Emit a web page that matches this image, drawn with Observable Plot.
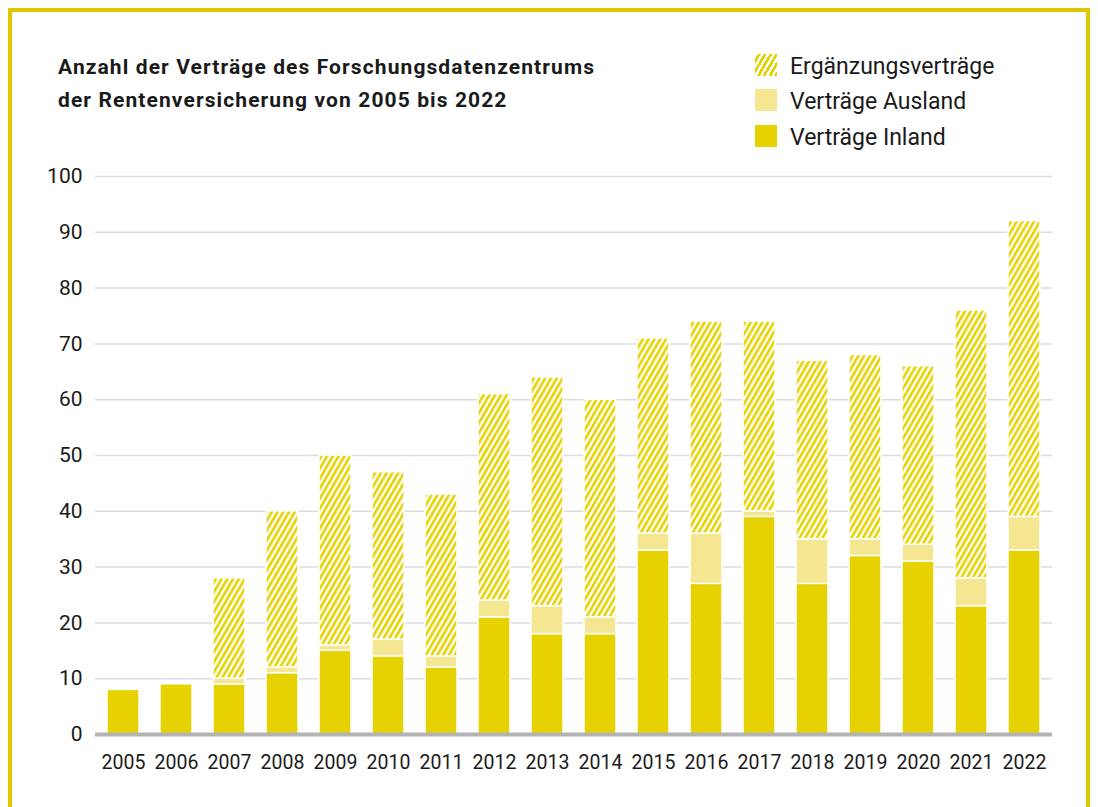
<!DOCTYPE html>
<html><head><meta charset="utf-8">
<script src="https://cdn.jsdelivr.net/npm/d3@7"></script>
<script src="https://cdn.jsdelivr.net/npm/@observablehq/plot@0.6"></script>
<style>
html,body{margin:0;padding:0;width:1098px;height:807px;overflow:hidden;background:#fff;font-family:Roboto,"Noto Sans",sans-serif;color:#1a1a1a;}
#frame{position:absolute;left:8px;top:8px;width:1074px;height:900px;border:4px solid #dec800;box-sizing:content-box;}
#title{position:absolute;left:58px;top:51px;font-size:21px;font-weight:700;line-height:33px;letter-spacing:1.1px;white-space:nowrap;}
#legend{position:absolute;left:755px;top:54px;}
.li{position:relative;height:35.3px;}
.sw{position:absolute;left:0;top:0;width:22px;height:22px;}
.lt{position:absolute;left:35px;top:-1px;font-size:23px;line-height:28px;white-space:nowrap;}
#chart{position:absolute;left:0;top:150px;}
</style></head>
<body>
<div id="frame"></div>
<div id="title">Anzahl der Verträge des Forschungsdatenzentrums<br>der Rentenversicherung von 2005 bis 2022</div>
<div id="legend"></div>
<div id="chart"></div>
<script>
const years = [2005,2006,2007,2008,2009,2010,2011,2012,2013,2014,2015,2016,2017,2018,2019,2020,2021,2022];
const inland = [8,9,9,11,15,14,12,21,18,18,33,27,39,27,32,31,23,33];
const ausland = [0,0,1,1,1,3,2,3,5,3,3,9,1,8,3,3,5,6];
const ergaenzung = [0,0,18,28,34,30,29,37,41,39,35,38,34,32,33,32,48,53];
const seriesNames = ["Verträge Inland","Verträge Ausland","Ergänzungsverträge"];
const seriesColors = ["#e6d200","#f5e691","url(#hatch)"];
const legendOrder = ["Ergänzungsverträge","Verträge Ausland","Verträge Inland"];
const yTicks = [0,10,20,30,40,50,60,70,80,90,100];

const data = [];
years.forEach((yr, i) => {
  [inland, ausland, ergaenzung].forEach((arr, k) => {
    if (arr[i] > 0) data.push({year: String(yr), series: seriesNames[k], value: arr[i]});
  });
});

const chart = Plot.plot({
  width: 1098, height: 650,
  marginLeft: 95, marginRight: 46, marginTop: 26, marginBottom: 66,
  style: {fontFamily: "Roboto, 'Noto Sans', sans-serif", color: "#1a1a1a", background: "transparent"},
  x: {domain: years.map(String), paddingInner: 0.4, paddingOuter: 0.17, label: null},
  y: {domain: [0, 100], label: null},
  color: {domain: seriesNames, range: seriesColors},
  marks: [
    Plot.ruleY(yTicks.filter(d => d > 0), {stroke: "#dcdcdc", strokeWidth: 1.5}),
    Plot.barY(data, {x: "year", y: "value", fill: "series", order: seriesNames, stroke: "#fff", strokeWidth: 1.5}),
    Plot.ruleY([0], {stroke: "#b4b4b4", strokeWidth: 4}),
    Plot.axisX({tickSize: 0, tickPadding: 21, fontSize: 19.5, label: null}),
    Plot.axisY({ticks: yTicks, tickSize: 0, tickPadding: 13, fontSize: 21, label: null})
  ]
});

const svg = d3.select(chart);
const defs = svg.insert("defs", ":first-child");
const pat = defs.append("pattern").attr("id", "hatch").attr("patternUnits", "userSpaceOnUse")
  .attr("width", 5).attr("height", 5).attr("patternTransform", "rotate(30)");
pat.append("rect").attr("width", 5).attr("height", 5).attr("fill", "#fff");
pat.append("rect").attr("width", 2.6).attr("height", 5).attr("fill", "#e6d200");
document.getElementById("chart").appendChild(chart);

const legend = d3.select("#legend");
legendOrder.forEach(name => {
  const k = seriesNames.indexOf(name);
  const li = legend.append("div").attr("class", "li");
  const sw = li.append("div").attr("class", "sw");
  if (seriesColors[k].startsWith("url")) {
    sw.style("background", "repeating-linear-gradient(-60deg, #e6d200 0px, #e6d200 2.6px, #fff 2.6px, #fff 5px)");
  } else {
    sw.style("background", seriesColors[k]);
  }
  li.append("div").attr("class", "lt").text(name);
});
</script>
</body></html>
